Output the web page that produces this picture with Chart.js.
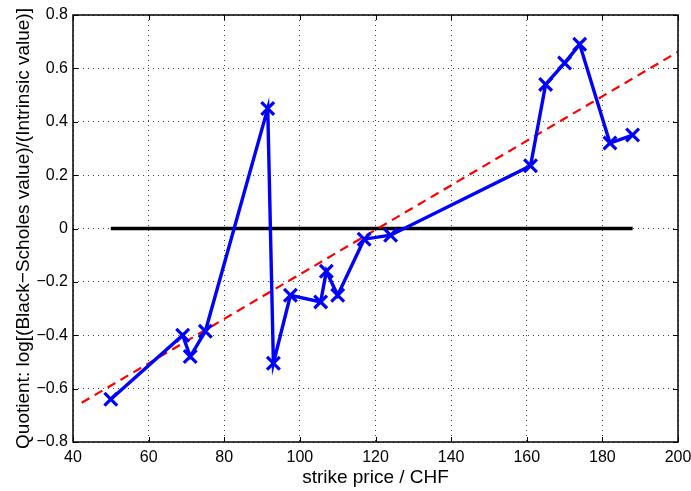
<!DOCTYPE html>
<html>
<head>
<meta charset="utf-8">
<script src="https://cdn.jsdelivr.net/npm/chart.js@4/dist/chart.umd.min.js"></script>
<style>
  html, body { margin: 0; padding: 0; background: #fff; }
  #wrap { width: 691px; height: 491px; }
</style>
</head>
<body>
<div id="wrap"><canvas id="grafico" width="691" height="491"></canvas></div>
<script>
// Precio de ejercicio (CHF) y cociente log[BS / valor intrínseco]
const strikes   = [50, 69, 71, 75, 91.5, 93, 97.5, 105.5, 107, 110, 117, 124, 161, 165, 170, 174, 182, 188];
const quotients = [-0.64, -0.40, -0.48, -0.385, 0.45, -0.505, -0.25, -0.275, -0.16, -0.25, -0.04, -0.025, 0.235, 0.54, 0.62, 0.69, 0.32, 0.35];

// Recta de ajuste (extremos) y línea de referencia en cero
const fitX  = [42.3, 200];
const fitY  = [-0.653, 0.662];
const zeroX = [50, 188];
const zeroY = [0, 0];

// Marcas de los ejes
const xTicks = [40, 60, 80, 100, 120, 140, 160, 180, 200];
const yTicks = [-0.8, -0.6, -0.4, -0.2, 0, 0.2, 0.4, 0.6, 0.8];

const fuente = '"Liberation Sans", Arial, Helvetica, sans-serif';

function aPuntos(xs, ys) { return xs.map((x, i) => ({ x: x, y: ys[i] })); }

function formatoY(v) {
    const r = Math.round(v * 10) / 10;
    if (r === 0) return '0';
    return (r < 0 ? '\u2212' : '') + Math.abs(r).toFixed(1);
}

// Caja completa con marcas hacia dentro, estilo Matlab
const cajaEjes = {
    id: 'cajaEjes',
    afterDraw(chart) {
        const { ctx, chartArea: a, scales } = chart;
        const L = 5;
        ctx.save();
        ctx.strokeStyle = '#000';
        ctx.lineWidth = 1;
        ctx.beginPath();
        xTicks.forEach(v => {
            const px = Math.round(scales.x.getPixelForValue(v)) + 0.5;
            ctx.moveTo(px, a.bottom); ctx.lineTo(px, a.bottom - L);
            ctx.moveTo(px, a.top); ctx.lineTo(px, a.top + L);
        });
        yTicks.forEach(v => {
            const py = Math.round(scales.y.getPixelForValue(v)) + 0.5;
            ctx.moveTo(a.left, py); ctx.lineTo(a.left + L, py);
            ctx.moveTo(a.right, py); ctx.lineTo(a.right - L, py);
        });
        ctx.stroke();
        ctx.lineWidth = 1.5;
        ctx.strokeRect(a.left, a.top, a.right - a.left, a.bottom - a.top);
        ctx.restore();
    }
};

const rejilla = { color: 'rgba(0,0,0,0.75)', drawTicks: false, lineWidth: 1 };
const bordeRejilla = { display: false, dash: [1, 4] };

const ctx = document.getElementById('grafico').getContext('2d');
new Chart(ctx, {
    type: 'scatter',
    data: {
        datasets: [
            {
                label: 'cociente',
                data: aPuntos(strikes, quotients),
                showLine: true,
                borderColor: '#0000ff',
                backgroundColor: '#0000ff',
                borderWidth: 3.4,
                pointStyle: 'crossRot',
                pointRadius: 9,
                pointBorderWidth: 3.2,
                pointBorderColor: '#0000ff',
                tension: 0
            },
            {
                label: 'ajuste',
                data: aPuntos(fitX, fitY),
                showLine: true,
                borderColor: '#ff0000',
                borderWidth: 2.2,
                borderDash: [9, 6],
                pointRadius: 0
            },
            {
                label: 'cero',
                data: aPuntos(zeroX, zeroY),
                showLine: true,
                borderColor: '#000',
                borderWidth: 3.5,
                pointRadius: 0
            }
        ]
    },
    options: {
        responsive: false,
        animation: false,
        layout: { padding: { left: 0, top: 15, right: 13, bottom: 0 } },
        plugins: { legend: { display: false }, tooltip: { enabled: false } },
        scales: {
            x: {
                type: 'linear',
                min: 40, max: 200,
                afterBuildTicks: s => { s.ticks = xTicks.map(v => ({ value: v })); },
                afterFit: s => { s.height = 49; s.paddingLeft = 0; s.paddingRight = 0; },
                grid: rejilla,
                border: bordeRejilla,
                ticks: { color: '#000', padding: 6, maxRotation: 0, font: { family: fuente, size: 16 } },
                title: { display: true, text: 'strike price / CHF', color: '#000', padding: { top: 0, bottom: 2 }, font: { family: fuente, size: 19 } }
            },
            y: {
                type: 'linear',
                min: -0.8, max: 0.8,
                afterBuildTicks: s => { s.ticks = yTicks.map(v => ({ value: v })); },
                afterFit: s => { s.width = 73; s.paddingTop = 0; s.paddingBottom = 0; },
                grid: rejilla,
                border: bordeRejilla,
                ticks: { color: '#000', padding: 5, callback: v => formatoY(v), font: { family: fuente, size: 16 } },
                title: { display: true, text: 'Quotient: log[(Black\u2212Scholes value)/(Intrinsic value)]', color: '#000', padding: { top: 12, bottom: 0 }, font: { family: fuente, size: 19 } }
            }
        }
    },
    plugins: [cajaEjes]
});
</script>
</body>
</html>
